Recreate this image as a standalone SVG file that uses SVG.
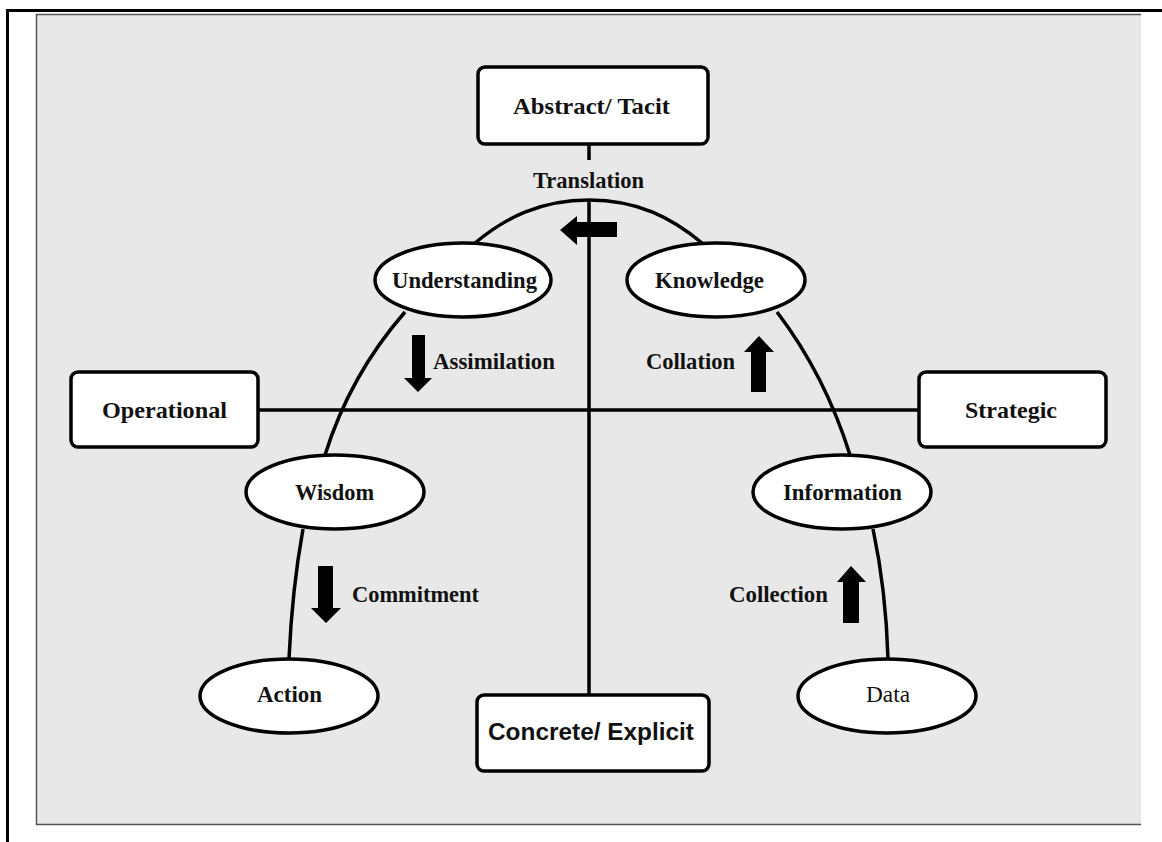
<svg xmlns="http://www.w3.org/2000/svg" width="1162" height="842" viewBox="0 0 1162 842">
<style>
.box{fill:#fff;stroke:#000;stroke-width:3.5}
.ell{fill:#fff;stroke:#000;stroke-width:3.5}
.ln{fill:none;stroke:#000;stroke-width:3.5}
.t{font-family:"Liberation Serif","Times New Roman",serif;font-weight:bold;font-size:23px;fill:#111}
.tn{font-family:"Liberation Serif","Times New Roman",serif;font-weight:normal;font-size:23px;fill:#111}
.ts{font-family:"Liberation Sans",Arial,sans-serif;font-weight:bold;font-size:24px;fill:#111}
.arr{fill:#000}
</style>
<rect x="0" y="0" width="1162" height="842" fill="#fff"/>
<g id="frame">
<rect x="36" y="14" width="1105" height="811" fill="#e8e8e8"/>
<line x1="36" y1="14.5" x2="1141" y2="14.5" stroke="#555" stroke-width="1.5"/>
<line x1="36.5" y1="14" x2="36.5" y2="825" stroke="#555" stroke-width="1.5"/>
<line x1="36" y1="824.5" x2="1141" y2="824.5" stroke="#555" stroke-width="1.5"/>
<line x1="7" y1="10.5" x2="1162" y2="10.5" stroke="#000" stroke-width="3"/>
<line x1="7.5" y1="9" x2="7.5" y2="842" stroke="#000" stroke-width="3"/>
</g>
<g id="connectors">
<line class="ln" x1="589" y1="144" x2="589" y2="160"/>
<line class="ln" x1="589" y1="200" x2="589" y2="695"/>
<line class="ln" x1="258" y1="410" x2="919" y2="410"/>
<path class="ln" d="M475,243 C505,218 540,200 589,200 C638,200 672,218 702,243"/>
<path class="ln" d="M405,312 Q350,375 325,455"/>
<path class="ln" d="M777,312 Q825,375 850,455"/>
<path class="ln" d="M303,529 Q292,590 289,659"/>
<path class="ln" d="M873,529 Q886,590 888,659"/>
<polygon class="arr" points="560,230 577,216 577,222 617,222 617,237 577,237 577,245"/>
<polygon class="arr" points="412,335 425,335 425,378 432,378 418,392 404,378 412,378"/>
<polygon class="arr" points="751,392 766,392 766,352 774,352 759,336 744,352 751,352"/>
<polygon class="arr" points="318,566 333,566 333,608 341,608 326,623 311,608 318,608"/>
<polygon class="arr" points="843,623 859,623 859,582 866,582 851,566 837,582 843,582"/>
</g>
<g id="abstract">
<rect class="box" x="478" y="67" width="230" height="77" rx="7"/>
<text class="t" x="513" y="114" textLength="157" lengthAdjust="spacingAndGlyphs">Abstract/ Tacit</text>
</g>
<g id="translation">
<text class="t" x="533" y="188" textLength="111" lengthAdjust="spacingAndGlyphs">Translation</text>
</g>
<g id="understanding">
<ellipse class="ell" cx="463" cy="280" rx="88" ry="37"/>
<text class="t" x="392" y="288" textLength="145" lengthAdjust="spacingAndGlyphs">Understanding</text>
</g>
<g id="knowledge">
<ellipse class="ell" cx="716" cy="280" rx="89" ry="37"/>
<text class="t" x="655" y="288" textLength="109" lengthAdjust="spacingAndGlyphs">Knowledge</text>
</g>
<g id="assimilation">
<text class="t" x="433" y="369" textLength="122" lengthAdjust="spacingAndGlyphs">Assimilation</text>
</g>
<g id="collation">
<text class="t" x="646" y="369" textLength="89" lengthAdjust="spacingAndGlyphs">Collation</text>
</g>
<g id="operational">
<rect class="box" x="71" y="372" width="187" height="75" rx="7"/>
<text class="t" x="102" y="418" textLength="125" lengthAdjust="spacingAndGlyphs">Operational</text>
</g>
<g id="strategic">
<rect class="box" x="919" y="372" width="187" height="75" rx="7"/>
<text class="t" x="965" y="418" textLength="92" lengthAdjust="spacingAndGlyphs">Strategic</text>
</g>
<g id="wisdom">
<ellipse class="ell" cx="335" cy="492" rx="89" ry="37"/>
<text class="t" x="295" y="500" textLength="79" lengthAdjust="spacingAndGlyphs">Wisdom</text>
</g>
<g id="information">
<ellipse class="ell" cx="842" cy="492" rx="89" ry="37"/>
<text class="t" x="783" y="500" textLength="119" lengthAdjust="spacingAndGlyphs">Information</text>
</g>
<g id="commitment">
<text class="t" x="352" y="602" textLength="127" lengthAdjust="spacingAndGlyphs">Commitment</text>
</g>
<g id="collection">
<text class="t" x="729" y="602" textLength="99" lengthAdjust="spacingAndGlyphs">Collection</text>
</g>
<g id="action">
<ellipse class="ell" cx="289" cy="696" rx="89" ry="37"/>
<text class="t" x="257" y="702" textLength="65" lengthAdjust="spacingAndGlyphs">Action</text>
</g>
<g id="data">
<ellipse class="ell" cx="887" cy="696" rx="89" ry="37"/>
<text class="tn" x="866" y="702" textLength="44" lengthAdjust="spacingAndGlyphs">Data</text>
</g>
<g id="concrete">
<rect class="box" x="477" y="695" width="232" height="76" rx="7"/>
<text class="ts" x="488" y="740" textLength="206" lengthAdjust="spacingAndGlyphs">Concrete/ Explicit</text>
</g>
</svg>
